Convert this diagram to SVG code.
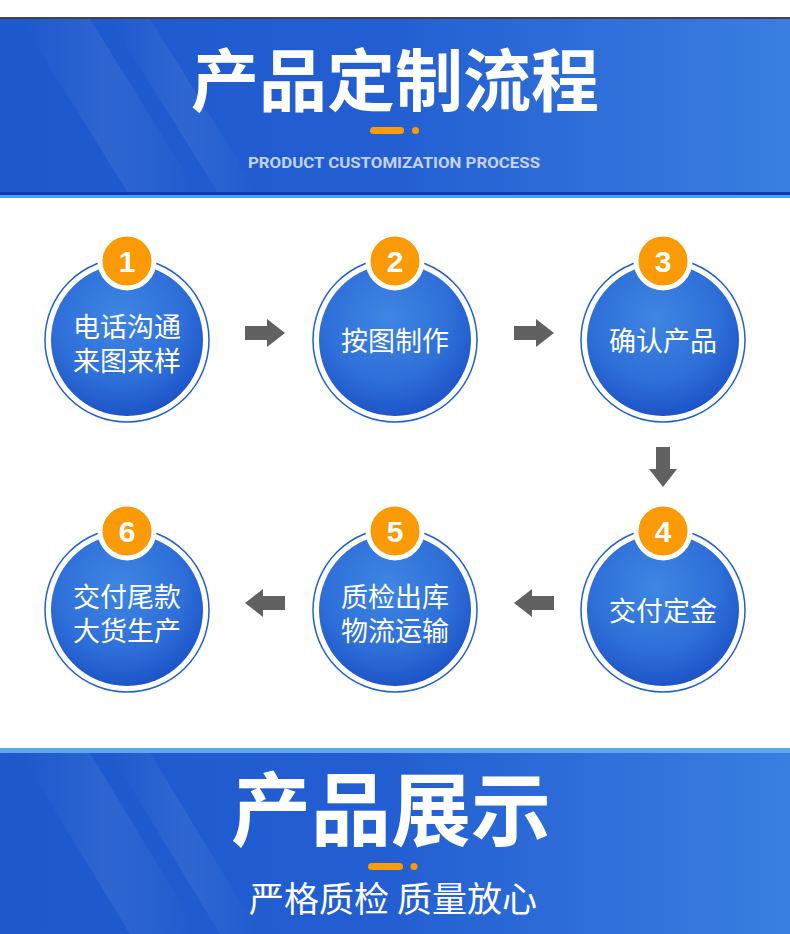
<svg xmlns="http://www.w3.org/2000/svg" width="790" height="934" viewBox="0 0 790 934">
<defs>
<linearGradient id="bg" x1="0" y1="0" x2="1" y2="0">
<stop offset="0" stop-color="#1d58cc"/>
<stop offset="0.5" stop-color="#235fd2"/>
<stop offset="1" stop-color="#3a7ee0"/>
</linearGradient>
<linearGradient id="streak" x1="0" y1="0" x2="1" y2="0">
<stop offset="0" stop-color="#fff" stop-opacity="0"/>
<stop offset="0.5" stop-color="#fff" stop-opacity="0.07"/>
<stop offset="1" stop-color="#fff" stop-opacity="0"/>
</linearGradient>
<radialGradient id="disc" cx="0.45" cy="0.35" r="0.7">
<stop offset="0" stop-color="#3f86e2"/>
<stop offset="0.6" stop-color="#2e6fd9"/>
<stop offset="1" stop-color="#1a4fc4"/>
</radialGradient>
<g id="rarrow"><rect x="0" y="-7" width="24" height="14" fill="#616161"/><polygon points="22,-14 40,0 22,14" fill="#616161"/></g>
<g id="larrow"><rect x="16" y="-7" width="24" height="14" fill="#616161"/><polygon points="18,-14 0,0 18,14" fill="#616161"/></g>
<g id="darrow"><rect x="-7" y="0" width="14" height="24" fill="#616161"/><polygon points="-14,22 0,40 14,22" fill="#616161"/></g>
</defs>
<style>
.ring{fill:#fff;stroke:#1f5fd0;stroke-width:1.5}
.disc{fill:url(#disc)}
.badge{fill:#f99a06;stroke:#fff;stroke-width:5}
.num{font-family:"Liberation Sans",Arial,sans-serif;font-weight:bold;font-size:30px;fill:#fff;text-anchor:middle}
.lbl{font-family:"Noto Sans CJK SC",sans-serif;font-size:27px;fill:#fff;text-anchor:middle}
.title{font-family:"Noto Sans CJK SC",sans-serif;font-weight:bold;fill:#fff;text-anchor:middle}
</style>
<rect width="790" height="934" fill="#fff"/>
<!-- top banner -->
<g id="top-banner">
<rect x="0" y="18" width="790" height="178" fill="url(#bg)"/>
<rect x="0" y="17" width="790" height="2" fill="#444"/>
<polygon points="20,19 90,19 200,196 130,196" fill="url(#streak)"/>
<polygon points="110,19 150,19 260,196 220,196" fill="url(#streak)"/>
<rect x="0" y="192" width="790" height="3" fill="#0a3fb0"/>
<rect x="0" y="195" width="790" height="3" fill="#4aa0f0"/>
<text x="395" y="106" class="title" font-size="68">产品定制流程</text>
<rect x="370" y="127" width="34" height="7" rx="3.5" fill="#f99a06"/>
<circle cx="415.5" cy="130.5" r="3.5" fill="#f99a06"/>
<text x="394" y="168" font-family="Roboto,'Liberation Sans',sans-serif" font-weight="bold" font-size="15" fill="#c5d3f2" text-anchor="middle" textLength="292" lengthAdjust="spacingAndGlyphs">PRODUCT CUSTOMIZATION PROCESS</text>
</g>
<!-- nodes -->
<g id="node1">
<circle cx="127" cy="340" r="82" class="ring"/><circle cx="127" cy="340" r="76" class="disc"/>
<circle cx="127" cy="261" r="27" class="badge"/><text x="127" y="272" class="num">1</text>
<text x="127" y="337" class="lbl">电话沟通</text><text x="127" y="371" class="lbl">来图来样</text>
</g>
<g id="node2">
<circle cx="395" cy="340" r="82" class="ring"/><circle cx="395" cy="340" r="76" class="disc"/>
<circle cx="395" cy="261" r="27" class="badge"/><text x="395" y="272" class="num">2</text>
<text x="395" y="351" class="lbl">按图制作</text>
</g>
<g id="node3">
<circle cx="663" cy="340" r="82" class="ring"/><circle cx="663" cy="340" r="76" class="disc"/>
<circle cx="663" cy="261" r="27" class="badge"/><text x="663" y="272" class="num">3</text>
<text x="663" y="351" class="lbl">确认产品</text>
</g>
<g id="node4">
<circle cx="663" cy="610" r="82" class="ring"/><circle cx="663" cy="610" r="76" class="disc"/>
<circle cx="663" cy="531" r="27" class="badge"/><text x="663" y="542" class="num">4</text>
<text x="663" y="621" class="lbl">交付定金</text>
</g>
<g id="node5">
<circle cx="395" cy="610" r="82" class="ring"/><circle cx="395" cy="610" r="76" class="disc"/>
<circle cx="395" cy="531" r="27" class="badge"/><text x="395" y="542" class="num">5</text>
<text x="395" y="607" class="lbl">质检出库</text><text x="395" y="641" class="lbl">物流运输</text>
</g>
<g id="node6">
<circle cx="127" cy="610" r="82" class="ring"/><circle cx="127" cy="610" r="76" class="disc"/>
<circle cx="127" cy="531" r="27" class="badge"/><text x="127" y="542" class="num">6</text>
<text x="127" y="607" class="lbl">交付尾款</text><text x="127" y="641" class="lbl">大货生产</text>
</g>
<!-- connectors -->
<g id="connectors">
<use href="#rarrow" x="245" y="333"/>
<use href="#rarrow" x="514" y="333"/>
<use href="#darrow" x="663" y="447"/>
<use href="#larrow" x="514" y="603"/>
<use href="#larrow" x="245" y="603"/>
</g>
<!-- bottom banner -->
<g id="bottom-banner">
<rect x="0" y="748" width="790" height="186" fill="url(#bg)"/>
<rect x="0" y="748" width="790" height="5" fill="#5aa8ee"/>
<polygon points="20,753 90,753 200,934 130,934" fill="url(#streak)"/>
<polygon points="110,753 150,753 260,934 220,934" fill="url(#streak)"/>
<text x="391" y="839" class="title" font-size="80">产品展示</text>
<rect x="368" y="863" width="35" height="7" rx="3.5" fill="#f99a06"/>
<circle cx="414" cy="866.5" r="3.5" fill="#f99a06"/>
<text x="393" y="912" font-family="'Noto Sans CJK SC',sans-serif" font-size="35" fill="#fff" text-anchor="middle">严格质检 质量放心</text>
</g>
</svg>
